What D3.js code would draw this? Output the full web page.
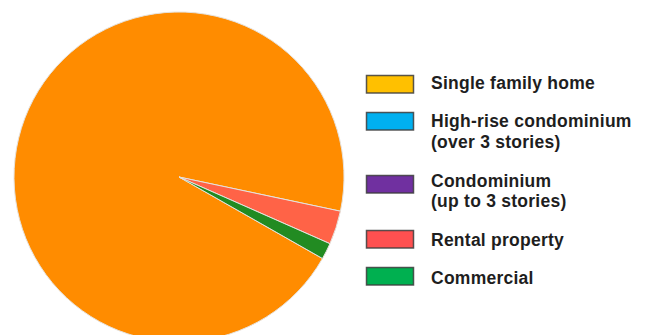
<!DOCTYPE html>
<html>
<head>
<meta charset="utf-8">
<script src="https://cdn.jsdelivr.net/npm/d3@7"></script>
<style>
  html, body { margin: 0; padding: 0; background: #fff; }
  svg { display: block; }
  .legend text { font-family: "Liberation Sans", Arial, sans-serif; font-weight: bold; font-size: 17.5px; letter-spacing: 0.25px; fill: #1e1e1e; }
</style>
</head>
<body>
<svg id="chart" width="651" height="335"></svg>
<script>
// Property types and their share (%) of the total
const categories = [
  ["Single family home"],
  ["High-rise condominium", "(over 3 stories)"],
  ["Condominium", "(up to 3 stories)"],
  ["Rental property"],
  ["Commercial"]
];
const shares = [95.1, 0, 0, 3.3, 1.6];
const sliceColors = ["#ff8c00", "#00b0f0", "#7030a0", "#ff6347", "#228b22"];
const legendColors = ["#ffc000", "#00b0f0", "#7030a0", "#ff5050", "#00b050"];

const width = 651, height = 335;
const cx = 179, cy = 177, radius = 165;
const startDeg = -240.4;

const svg = d3.select("#chart");

const pie = d3.pie()
  .sort(null)
  .value(d => d)
  .startAngle(startDeg * Math.PI / 180)
  .endAngle(startDeg * Math.PI / 180 + 2 * Math.PI);

const arc = d3.arc().innerRadius(0).outerRadius(radius);

const g = svg.append("g").attr("transform", `translate(${cx},${cy})`);
g.selectAll("path")
  .data(pie(shares))
  .join("path")
  .filter(d => d.data > 0)
  .attr("d", arc)
  .attr("fill", d => sliceColors[d.index])
  .attr("stroke", "#e6e2dc")
  .attr("stroke-width", 1);

// Legend: swatch plus one or two lines of label text
const legendRows = [
  { boxY: 75, lines: [88.8] },
  { boxY: 112, lines: [127.2, 147.8] },
  { boxY: 175, lines: [186.5, 207] },
  { boxY: 230, lines: [246] },
  { boxY: 267, lines: [284] }
];

const legend = svg.append("g").attr("class", "legend");
const rows = legend.selectAll("g")
  .data(categories.map((c, i) => ({ label: c, color: legendColors[i], row: legendRows[i] })))
  .join("g");

rows.append("rect")
  .attr("x", 366.5)
  .attr("y", d => d.row.boxY + 0.5)
  .attr("width", 47)
  .attr("height", 17.5)
  .attr("fill", d => d.color)
  .attr("stroke", "#3c3c3c")
  .attr("stroke-opacity", 0.85)
  .attr("stroke-width", 1.5);

rows.each(function(d) {
  const row = d3.select(this);
  d.label.forEach((line, j) => {
    row.append("text")
      .attr("x", 431)
      .attr("y", d.row.lines[j])
      .text(line);
  });
});
</script>
</body>
</html>
